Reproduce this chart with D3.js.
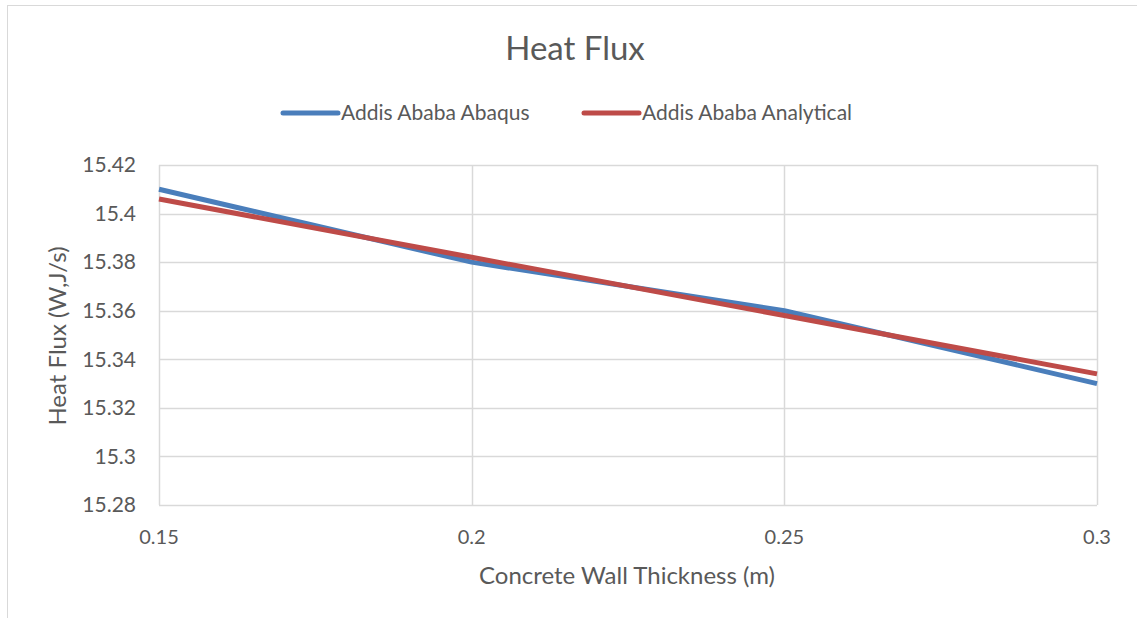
<!DOCTYPE html>
<html><head><meta charset="utf-8">
<script src="https://cdn.jsdelivr.net/npm/d3@7"></script>
<style>body{margin:0;background:#fff}svg{display:block}text{font-family:Lato,"Open Sans",sans-serif;fill:#595959}</style>
</head><body>
<svg id="c" width="1137" height="618"></svg>
<script>
const thickness = [0.15, 0.2, 0.25, 0.3];
const abaqus = [15.41, 15.38, 15.36, 15.33];
const analytical = [15.406, 15.382, 15.358, 15.334];
const xTicks = [0.15, 0.2, 0.25, 0.3];
const yTicks = [15.28, 15.3, 15.32, 15.34, 15.36, 15.38, 15.4, 15.42];
const seriesNames = ["Addis Ababa Abaqus", "Addis Ababa Analytical"];
const seriesColors = ["#4A7EBB", "#BE4B48"];

const svg = d3.select("#c");
const W = 1137, H = 618;
const m = {left:159, right:1097, top:165, bottom:505};
const x = d3.scaleLinear().domain([0.15,0.3]).range([m.left,m.right]);
const y = d3.scaleLinear().domain([15.28,15.42]).range([m.bottom,m.top]);

// chart border
svg.append("rect").attr("x",7.5).attr("y",5.5).attr("width",W+10).attr("height",H+10)
  .attr("fill","none").attr("stroke","#d9d9d9").attr("stroke-width",1);

// gridlines
svg.append("g").selectAll("line").data(yTicks).join("line")
  .attr("x1",m.left).attr("x2",m.right).attr("y1",d=>Math.round(y(d))+0.5).attr("y2",d=>Math.round(y(d))+0.5)
  .attr("stroke","#d9d9d9").attr("stroke-width",1.5);
svg.append("g").selectAll("line").data(xTicks).join("line")
  .attr("y1",m.top).attr("y2",m.bottom).attr("x1",d=>Math.round(x(d))+0.5).attr("x2",d=>Math.round(x(d))+0.5)
  .attr("stroke","#d9d9d9").attr("stroke-width",1.5);

// tick labels
const fmt = d => (+d.toFixed(2)).toString();
svg.append("g").selectAll("text").data(yTicks).join("text")
  .attr("x",136).attr("y",d=>y(d)).attr("dy","0.35em").attr("text-anchor","end")
  .attr("font-size",21).text(fmt);
svg.append("g").selectAll("text").data(xTicks).join("text")
  .attr("x",d=>x(d)).attr("y",537).attr("dy","0.35em").attr("text-anchor","middle")
  .attr("font-size",20).text(fmt);

// lines
const line = d3.line().x((d,i)=>x(thickness[i])).y(d=>y(d));
[abaqus, analytical].forEach((s,k)=>{
  svg.append("path").datum(s).attr("d",line).attr("fill","none")
    .attr("stroke",seriesColors[k]).attr("stroke-width",5).attr("stroke-linecap","butt").attr("stroke-linejoin","round");
});

// title
svg.append("text").attr("x",575).attr("y",60).attr("text-anchor","middle").attr("font-size",33).text("Heat Flux");

// legend
const legX = [283, 584];
seriesNames.forEach((n,k)=>{
  svg.append("line").attr("x1",legX[k]).attr("x2",legX[k]+55).attr("y1",113).attr("y2",113)
    .attr("stroke",seriesColors[k]).attr("stroke-width",5).attr("stroke-linecap","round");
  svg.append("text").attr("x",legX[k]+58).attr("y",113).attr("dy","0.35em").attr("font-size",21).text(n);
});

// axis titles
svg.append("text").attr("x",627).attr("y",576).attr("dy","0.35em").attr("text-anchor","middle").attr("font-size",24)
  .text("Concrete Wall Thickness (m)");
svg.append("text").attr("transform","translate(58,336) rotate(-90)").attr("dy","0.35em").attr("text-anchor","middle")
  .attr("font-size",24).text("Heat Flux (W,J/s)");
</script>
</body></html>
